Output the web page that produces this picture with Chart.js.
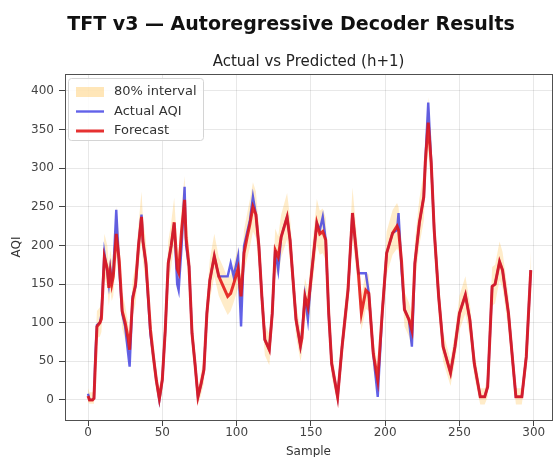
<!DOCTYPE html>
<html>
<head>
<meta charset="utf-8">
<script src="https://cdn.jsdelivr.net/npm/chart.js@4.4.1/dist/chart.umd.min.js"></script>
<style>
    html, body { margin: 0; padding: 0; background: #fff; }
    #wrap { width: 556px; height: 457px; }
</style>
</head>
<body>
<div id="wrap"><canvas id="myChart" width="556" height="457"></canvas></div>
<script>
'use strict'

// values
const sampleIdx = [0, 1, 3, 4, 5, 6, 8, 9, 11, 13, 14, 15, 16, 17, 19, 21, 23, 25, 27, 28,
    30, 32, 34, 36, 37, 39, 42, 44, 46, 48, 50, 52, 54, 56, 58, 60, 61, 63, 65, 66,
    68, 70, 72, 74, 76, 78, 80, 82, 85, 88, 91, 94, 96, 98, 101, 103, 105, 107, 109, 111,
    113, 115, 117, 119, 122, 124, 126, 128, 130, 134, 136, 138, 140, 143, 144, 146, 148, 150, 154, 156,
    158, 160, 162, 164, 168, 171, 175, 178, 182, 184, 187, 189, 192, 195, 198, 201, 205, 208, 209, 211,
    213, 216, 218, 220, 223, 226, 227, 229, 231, 233, 236, 239, 244, 247, 250, 254, 257, 260, 264, 267,
    269, 272, 274, 277, 279, 283, 286, 288, 292, 295, 298]

const actualAqi = [8, 0, 0, 2, 60, 97, 100, 110, 190, 165, 150, 170, 155, 165, 246, 170, 112, 95, 60, 43,
    134, 147, 200, 240, 205, 175, 85, 56, 25, 0, 26, 91, 177, 200, 229, 150, 142, 200, 276, 200,
    173, 86, 47, 4, 20, 39, 112, 155, 186, 160, 160, 160, 177, 160, 186, 95, 199, 216, 233, 263,
    240, 199, 134, 78, 65, 112, 194, 168, 211, 237, 207, 155, 104, 70, 86, 134, 104, 155, 229, 220,
    237, 207, 112, 47, 4, 69, 142, 242, 164, 164, 164, 138, 60, 4, 112, 190, 216, 220, 242, 170,
    117, 104, 69, 177, 229, 263, 307, 385, 307, 220, 134, 69, 35, 69, 112, 136, 104, 47, 4, 4,
    17, 147, 150, 179, 168, 112, 47, 4, 4, 56, 168]

const forecastAqi = [5, 0, 0, 2, 50, 95, 100, 105, 185, 170, 145, 165, 150, 160, 215, 180, 115, 100, 80, 65,
    130, 150, 200, 237, 205, 177, 91, 56, 25, 2, 26, 91, 177, 200, 230, 170, 165, 220, 259, 210,
    173, 86, 47, 4, 20, 39, 112, 155, 186, 160, 147, 134, 138, 150, 170, 134, 190, 210, 228, 250,
    240, 199, 134, 78, 65, 112, 194, 185, 211, 237, 207, 155, 104, 70, 80, 134, 120, 155, 229, 215,
    218, 207, 112, 47, 4, 69, 142, 242, 164, 112, 142, 138, 60, 26, 112, 190, 216, 225, 220, 180,
    117, 104, 90, 177, 229, 263, 307, 359, 307, 220, 134, 69, 35, 69, 112, 136, 104, 47, 4, 4,
    17, 147, 150, 179, 168, 112, 47, 4, 4, 56, 168]

const upperBound = [15, 10, 10, 14, 70, 115, 120, 128, 215, 200, 175, 195, 180, 192, 250, 210, 140, 122, 100, 85,
    155, 175, 228, 270, 235, 205, 112, 75, 42, 15, 42, 112, 205, 230, 262, 198, 192, 252, 290, 240,
    200, 108, 65, 15, 35, 56, 135, 182, 215, 185, 172, 158, 162, 175, 198, 160, 220, 240, 260, 282,
    270, 225, 158, 98, 85, 135, 222, 212, 240, 268, 236, 180, 126, 90, 100, 158, 142, 180, 260, 245,
    248, 236, 135, 65, 15, 88, 166, 275, 190, 135, 166, 162, 80, 45, 135, 218, 246, 255, 250, 206,
    140, 126, 112, 205, 260, 295, 340, 392, 340, 250, 158, 88, 52, 88, 135, 160, 126, 65, 15, 15,
    32, 172, 175, 205, 192, 135, 65, 15, 15, 75, 192]

const lowerBound = [-3, -5, -5, -5, 35, 80, 82, 88, 160, 145, 122, 140, 128, 135, 185, 152, 92, 78, 60, 45,
    108, 125, 172, 205, 178, 150, 70, 38, 10, -8, 10, 72, 150, 172, 200, 145, 140, 190, 225, 182,
    148, 66, 30, -6, 6, 22, 90, 130, 160, 135, 122, 110, 115, 126, 145, 110, 165, 182, 198, 218,
    210, 172, 110, 58, 45, 90, 168, 160, 184, 208, 180, 130, 82, 50, 60, 110, 98, 130, 200, 188,
    190, 180, 90, 30, -6, 50, 118, 210, 140, 90, 118, 115, 40, 8, 90, 162, 188, 196, 192, 155,
    95, 82, 68, 150, 200, 232, 275, 325, 275, 192, 110, 50, 18, 50, 90, 112, 82, 30, -6, -6,
    4, 122, 125, 155, 145, 90, 30, -6, -6, 38, 145]

const xTicks = [0, 50, 100, 150, 200, 250, 300]
const yTicks = [0, 50, 100, 150, 200, 250, 300, 350, 400]
const seriesNames = ['80% interval', 'Actual AQI', 'Forecast']

const bandColor = 'rgba(255, 165, 0, 0.21)'
const legendBandColor = 'rgba(255, 165, 0, 0.28)'
const actualColor = 'rgba(45, 45, 225, 0.75)'
const forecastColor = 'rgba(226, 20, 20, 0.88)'
const fontFamily = "'DejaVu Sans', sans-serif"

const toPoints = function(values) {
    return sampleIdx.map((x, i) => {
        return { x: x, y: values[i] }
    })
}

// box round the axes, like matplotlib spines
const framePlugin = {
    id: 'frame',
    afterDatasetsDraw(chart) {
        const a = chart.chartArea
        const c = chart.ctx
        c.save()
        c.strokeStyle = '#505050'
        c.lineWidth = 1
        c.strokeRect(Math.round(a.left) + 0.5, Math.round(a.top) + 0.5,
            Math.round(a.right - a.left), Math.round(a.bottom - a.top))
        c.restore()
    }
}

// legend inside the plot, upper left
const innerLegend = {
    id: 'innerLegend',
    afterDraw(chart) {
        const a = chart.chartArea
        const c = chart.ctx
        const x0 = a.left + 3
        const y0 = a.top + 4
        c.save()
        c.fillStyle = 'rgba(255,255,255,0.85)'
        c.strokeStyle = '#d4d4d4'
        c.lineWidth = 1
        c.beginPath()
        c.roundRect(x0 + 0.5, y0 + 0.5, 135, 62, 3)
        c.fill()
        c.stroke()

        c.font = '13px ' + fontFamily
        c.textBaseline = 'middle'
        seriesNames.forEach((name, i) => {
            const yy = y0 + 14 + i * 19.5
            if (i === 0) {
                c.fillStyle = legendBandColor
                c.fillRect(x0 + 8, yy - 5, 28, 10)
            } else {
                c.strokeStyle = i === 1 ? actualColor : forecastColor
                c.lineWidth = i === 1 ? 2.4 : 3
                c.beginPath()
                c.moveTo(x0 + 8, yy)
                c.lineTo(x0 + 36, yy)
                c.stroke()
            }
            c.fillStyle = '#333'
            c.fillText(name, x0 + 46, yy)
        })
        c.restore()
    }
}

const ctx = document.getElementById('myChart')

new Chart(ctx, {
    type: 'line',
    data: {
        datasets: [{
            label: seriesNames[2],
            data: toPoints(forecastAqi),
            borderColor: forecastColor,
            borderWidth: 3,
            pointRadius: 0,
            fill: false,
            order: 0,
        }, {
            label: seriesNames[1],
            data: toPoints(actualAqi),
            borderColor: actualColor,
            borderWidth: 2.4,
            pointRadius: 0,
            fill: false,
            order: 1,
        }, {
            label: seriesNames[0],
            data: toPoints(upperBound),
            borderWidth: 0,
            borderColor: 'rgba(0,0,0,0)',
            backgroundColor: bandColor,
            pointRadius: 0,
            fill: '+1',
            order: 2,
        }, {
            label: 'lower',
            data: toPoints(lowerBound),
            borderWidth: 0,
            borderColor: 'rgba(0,0,0,0)',
            pointRadius: 0,
            fill: false,
            order: 2,
        }],
    },
    options: {
        responsive: false,
        animation: false,
        devicePixelRatio: 1,
        layout: { padding: { left: 30, right: 4, top: 0, bottom: 0 } },
        plugins: {
            legend: { display: false },
            tooltip: { enabled: false },
            title: {
                display: true,
                text: 'TFT v3 — Autoregressive Decoder Results',
                color: '#111',
                font: { family: fontFamily, size: 19, weight: 'bold', lineHeight: 1.2 },
                padding: { top: 13.6, bottom: 16.3 },
            },
            subtitle: {
                display: true,
                fullSize: false,
                text: 'Actual vs Predicted (h+1)',
                color: '#222',
                font: { family: fontFamily, size: 15, lineHeight: 1.2 },
                padding: { top: 0, bottom: 3.3 },
            },
        },
        scales: {
            x: {
                type: 'linear',
                min: -15.5,
                max: 312.3,
                afterBuildTicks: (s) => { s.ticks = xTicks.map(v => ({ value: v })) },
                afterFit: (s) => { s.height = 37 },
                border: { display: false },
                grid: { color: 'rgba(0,0,0,0.09)', tickColor: '#444', tickLength: 6 },
                ticks: { color: '#444', padding: 0, font: { family: fontFamily, size: 12 } },
                title: {
                    display: true,
                    text: 'Sample',
                    color: '#333',
                    font: { family: fontFamily, size: 12 },
                    padding: { top: 0, bottom: -2 },
                },
            },
            y: {
                type: 'linear',
                min: -26,
                max: 422,
                afterBuildTicks: (s) => { s.ticks = yTicks.map(v => ({ value: v })) },
                afterFit: (s) => { s.width = 35 },
                border: { display: false },
                grid: { color: 'rgba(0,0,0,0.09)', tickColor: '#444', tickLength: 6 },
                ticks: { color: '#444', padding: 5, font: { family: fontFamily, size: 12 } },
                title: {
                    display: true,
                    text: 'AQI',
                    color: '#333',
                    font: { family: fontFamily, size: 12 },
                    padding: { top: -20.2, bottom: 0 },
                },
            },
        },
    },
    plugins: [framePlugin, innerLegend],
})
</script>
</body>
</html>
